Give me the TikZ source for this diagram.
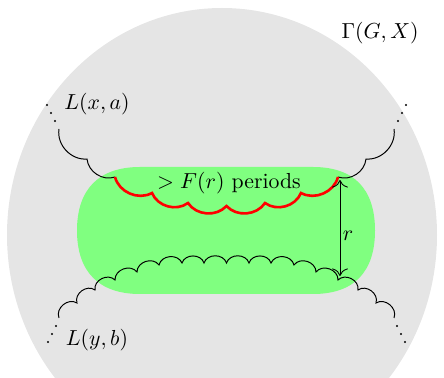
\documentclass[tikz,border=0pt]{standalone}
\usetikzlibrary{arrows.meta}
\begin{document}
\begin{tikzpicture}[x=0.46pt,y=0.46pt,
  upperarc/.style={bend right=52},
  lowerarc/.style={bend left=72,looseness=1.15},
  redline/.style={draw=red,line width=1.2pt},
  blkline/.style={draw=black,line width=0.45pt},
  dotmark/.style={fill=black}]
\useasboundingbox (0,0) rectangle (444,-378);
\begin{scope}
\clip (0,0) rectangle (444,-378);
\fill[black!10] (222,-235) ellipse[x radius=215,y radius=227];
\end{scope}
\fill[green!50] (140,-167) -- (313,-167)
  .. controls (354,-167) and (375,-189) .. (375,-230.5)
  .. controls (375,-272) and (354,-294) .. (313,-294)
  -- (140,-294)
  .. controls (99,-294) and (77,-272) .. (77,-230.5)
  .. controls (77,-189) and (99,-167) .. (140,-167) -- cycle;
% upper line
\coordinate (U0) at (59,-129);
\coordinate (U1) at (87,-159);
\coordinate (U2) at (115,-177);
\coordinate (U3) at (152,-193);
\coordinate (U4) at (188,-203);
\coordinate (U5) at (226.5,-206);
\coordinate (U6) at (265,-203);
\coordinate (U7) at (301,-193);
\coordinate (U8) at (338,-177);
\coordinate (U9) at (366,-159);
\coordinate (U10) at (394,-129);
\draw[blkline] (U0) to[upperarc] (U1) to[upperarc] (U2);
\draw[blkline] (U8) to[upperarc] (U9) to[upperarc] (U10);
\draw[redline] (U2) to[upperarc] (U3) to[upperarc] (U4) to[upperarc] (U5)
  to[upperarc] (U6) to[upperarc] (U7) to[upperarc] (U8);
% lower line
\coordinate (D0) at (59,-318);
\coordinate (D1) at (77,-303);
\coordinate (D2) at (95,-290);
\coordinate (D3) at (115,-280);
\coordinate (D4) at (137,-272);
\coordinate (D5) at (159,-265);
\coordinate (D6) at (182,-263);
\coordinate (D7) at (204,-263);
\coordinate (D8) at (226.5,-263);
\coordinate (D9) at (249,-263);
\coordinate (D10) at (271,-263);
\coordinate (D11) at (294,-265);
\coordinate (D12) at (316,-272);
\coordinate (D13) at (338,-280);
\coordinate (D14) at (358,-290);
\coordinate (D15) at (376,-303);
\coordinate (D16) at (394,-318);
\draw[blkline] (D0) to[lowerarc] (D1) to[lowerarc] (D2) to[lowerarc] (D3)
  to[lowerarc] (D4) to[lowerarc] (D5) to[lowerarc] (D6) to[lowerarc] (D7)
  to[lowerarc] (D8) to[lowerarc] (D9) to[lowerarc] (D10) to[lowerarc] (D11)
  to[lowerarc] (D12) to[lowerarc] (D13) to[lowerarc] (D14) to[lowerarc] (D15)
  to[lowerarc] (D16);
% dots
\foreach \p in {(47,-105),(51,-113),(55,-121),(398,-121),(402,-113),(406,-105),
  (56,-326),(52,-334),(48,-342),(397,-326),(401,-334),(405,-342)}
  \fill[dotmark] \p circle[radius=1.2];
% labels
\node (lxa) at (97,-104) {$L(x,a)$};
\node (lyb) at (97,-340) {$L(y,b)$};
\node (gam) at (380,-33) {$\Gamma(G,X)$};
\node (per) at (229,-183) {$>F(r)$ periods};
\coordinate (rtop) at (340,-180);
\coordinate (rbot) at (340,-276);
\draw[{To[scale=1.4]}-{To[scale=1.4]}] (rtop) -- (rbot);
\node (rl) at (348,-236) {$r$};
\end{tikzpicture}
\end{document}
